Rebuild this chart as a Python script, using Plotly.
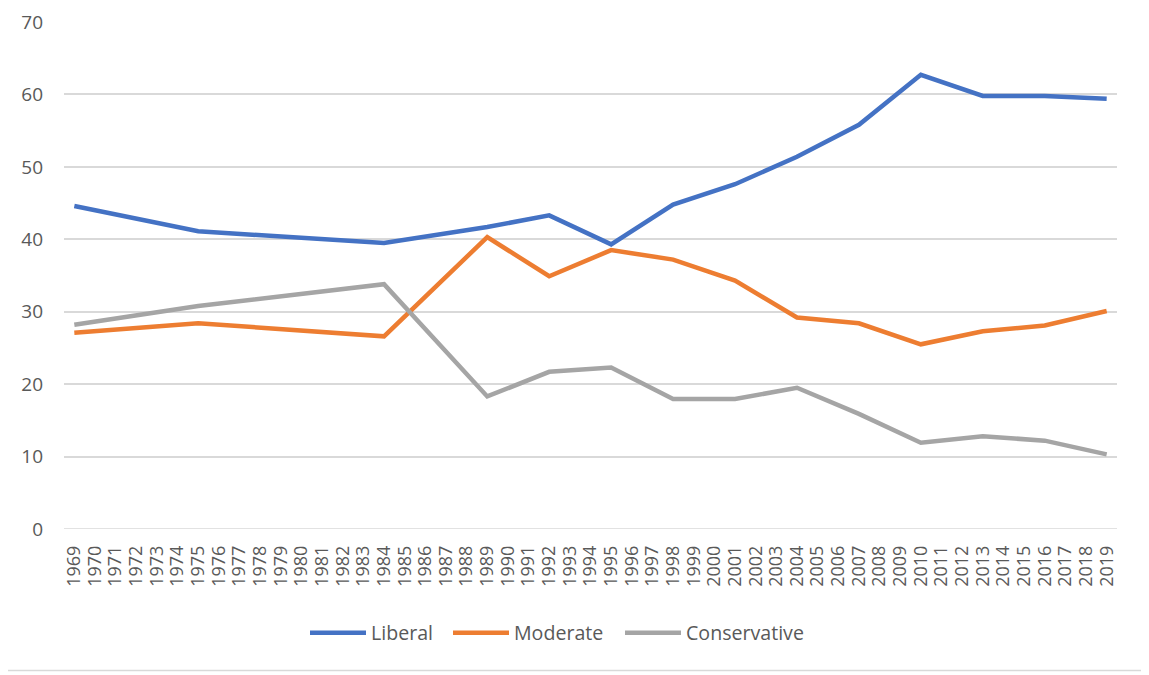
import plotly.graph_objects as go

years = [1969, 1975, 1984, 1989, 1992, 1995, 1998, 2001, 2004, 2007, 2010, 2013, 2016, 2019]
liberal = [44.6, 41.1, 39.5, 41.7, 43.3, 39.3, 44.8, 47.6, 51.4, 55.8, 62.7, 59.8, 59.8, 59.4]
moderate = [27.1, 28.4, 26.6, 40.3, 34.9, 38.5, 37.2, 34.3, 29.2, 28.4, 25.5, 27.3, 28.1, 30.1]
conservative = [28.2, 30.8, 33.8, 18.3, 21.7, 22.3, 17.95, 17.95, 19.5, 15.9, 11.9, 12.8, 12.2, 10.3]
all_years = list(range(1969, 2020))
y_ticks = [0, 10, 20, 30, 40, 50, 60, 70]

series = [
    ("Liberal", liberal, "#4472C4", 72),
    ("Moderate", moderate, "#ED7D31", 101),
    ("Conservative", conservative, "#A5A5A5", 120),
]

# page is rendered with an 8px body margin, so the figure is placed 8px in
OFF = 8
W, H = 1149 - OFF, 675 - OFF
L, T = 64 - OFF, 22 - OFF
R = W - (1117 - OFF)
B = H - (529 - OFF)
pw, ph = W - L - R, H - T - B

fig = go.Figure()
for name, vals, col, lw in series:
    fig.add_trace(go.Scatter(x=years, y=vals, name=name, mode="lines",
                             line=dict(color=col, width=4.5), legendwidth=lw))

fig.update_layout(
    width=W, height=H,
    margin=dict(l=L, r=R, t=T, b=B, autoexpand=False),
    paper_bgcolor="white", plot_bgcolor="white",
    font=dict(family="Open Sans", size=18, color="#595959"),
    showlegend=True,
    legend=dict(orientation="h", x=(305 - OFF - L) / pw, xanchor="left",
                y=(529 - 633) / ph, yanchor="middle",
                font=dict(size=19.6, color="#595959"), itemwidth=56, traceorder="normal"),
    xaxis=dict(
        range=[1968.5, 2019.5], tickmode="array", tickvals=all_years,
        ticktext=[str(y) for y in all_years], tickangle=-90, automargin=False,
        showgrid=False, zeroline=False, showline=False, ticks="",
        tickfont=dict(size=18, color="#595959"), ticklabelstandoff=12,
    ),
    yaxis=dict(
        range=[0, 70], tickvals=y_ticks, showgrid=True, gridcolor="#D9D9D9", gridwidth=1.5,
        zeroline=False, showline=False, ticks="", automargin=False,
        tickfont=dict(size=19, color="#595959"), ticklabelstandoff=20,
    ),
)

# zero baseline like excel gridline
fig.add_shape(type="line", xref="paper", yref="y", x0=0, x1=1, y0=0, y1=0,
              line=dict(color="#D9D9D9", width=1.5), layer="below")

# outer chart border (right and bottom edges visible in the reference)
xr = (1146.5 - OFF - L) / pw
yb = (529 - 670.5) / ph
fig.add_shape(type="line", xref="paper", yref="paper", x0=xr, x1=xr, y0=yb, y1=(529 + 10) / ph,
              line=dict(color="#D9D9D9", width=1.5), layer="below")
fig.add_shape(type="line", xref="paper", yref="paper", x0=(-20 - L) / pw, x1=xr, y0=yb, y1=yb,
              line=dict(color="#D9D9D9", width=1.5), layer="below")

fig.write_html("out.html")
